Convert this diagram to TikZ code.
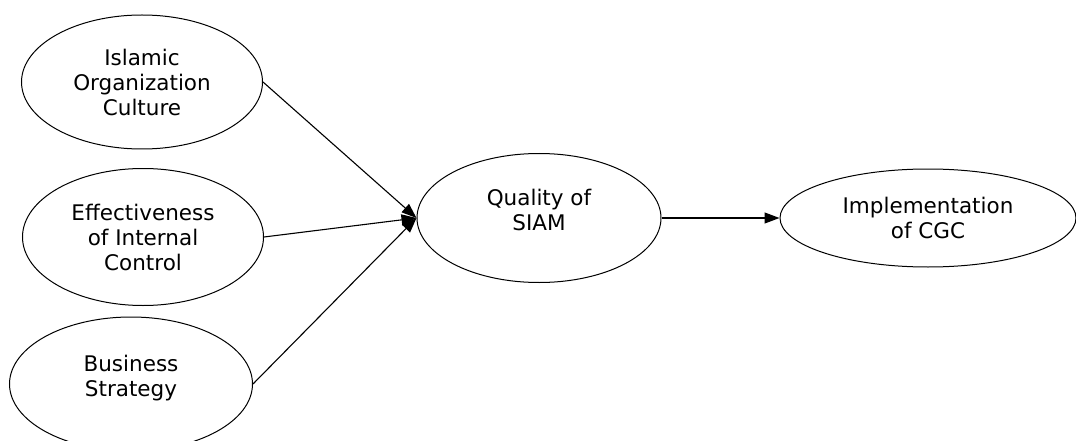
\documentclass[tikz,border=0pt]{standalone}
\usepackage{fontspec}
\setmainfont{DejaVu Sans}
\usetikzlibrary{shapes.geometric,arrows.meta}
\begin{document}
\begin{tikzpicture}[x=1pt,y=-1pt,
  construct/.style={draw=black, line width=1pt, ellipse, inner sep=0pt, align=center,
    font=\fontsize{21.5}{25}\selectfont},
  link/.style={draw=black, line width=1.1pt, -{Triangle[length=15pt,width=11pt]}}]
\useasboundingbox (0,0) rectangle (1076,441);
\node[construct, minimum width=241pt, minimum height=134pt] (ioc) at (142,82) {Islamic\\Organization\\Culture};
\node[construct, minimum width=241pt, minimum height=137pt] (eic) at (143,237) {Effectiveness\\of Internal\\Control};
\node[construct, minimum width=243pt, minimum height=134pt] (bs) at (131,384) {Business\\Strategy\\[-8pt]};
\node[construct, minimum width=244pt, minimum height=129pt] (qs) at (539,218) {Quality of\\SIAM\\[-9pt]};
\node[construct, minimum width=296pt, minimum height=98pt] (cgc) at (928,218) {Implementation\\of CGC};
\draw[link] (ioc.east) -- (qs.west);
\draw[link] (eic.east) -- (qs.west);
\draw[link] (bs.east) -- (qs.west);
\draw[link] (qs.east) -- (cgc.west);
\end{tikzpicture}
\end{document}
